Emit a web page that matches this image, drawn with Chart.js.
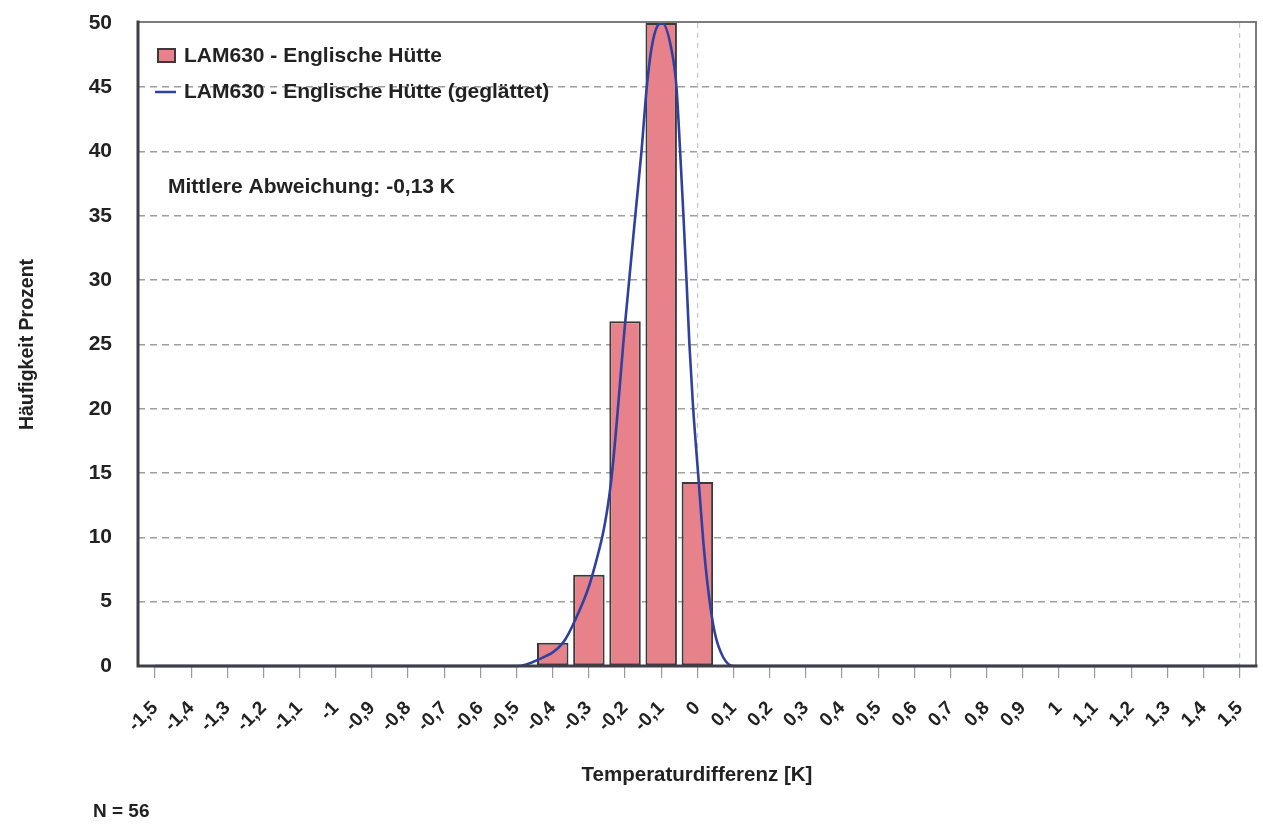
<!DOCTYPE html>
<html lang="de">
<head>
<meta charset="utf-8">
<title>Temperaturdifferenz LAM630 - Englische Hütte</title>
<script src="https://cdn.jsdelivr.net/npm/chart.js@4/dist/chart.umd.min.js"></script>
<style>
  html, body { margin: 0; padding: 0; background: #fff; }
  #wrap { width: 1263px; height: 826px; }
</style>
</head>
<body>
<div id="wrap"><canvas id="histChart" width="1263" height="826"></canvas></div>
<script>
// histogram classes (K) and their share of all cases in percent
const BIN_X = [-0.4, -0.3, -0.2, -0.1, 0];
const BIN_PCT = [1.8, 7.1, 26.8, 50.0, 14.3];

// smoothed frequency curve, sampled along the x axis
const SMOOTH_X = [-1.5, -0.5, -0.44, -0.372, -0.336, -0.29, -0.24, -0.2, -0.17, -0.154, -0.14, -0.127, -0.11, -0.097,
                  -0.072, -0.058, -0.048, -0.039, -0.03, -0.022, -0.012, 0.002, 0.016, 0.03, 0.048, 0.071, 0.1, 1.5];
const SMOOTH_Y = [0, 0, 0.5, 1.8, 3.7, 7.1, 14.0, 26.6, 35.5, 40.2, 45.0, 48.0, 49.8, 50.0,
                  48.0, 45.1, 40.2, 35.3, 30.0, 25.0, 20.2, 15.0, 9.8, 5.9, 2.6, 0.7, 0, 0];

const X_TICKS = [-1.5, -1.4, -1.3, -1.2, -1.1, -1, -0.9, -0.8, -0.7, -0.6, -0.5, -0.4, -0.3, -0.2, -0.1, 0,
                 0.1, 0.2, 0.3, 0.4, 0.5, 0.6, 0.7, 0.8, 0.9, 1, 1.1, 1.2, 1.3, 1.4, 1.5];
const Y_TICKS = [0, 5, 10, 15, 20, 25, 30, 35, 40, 45, 50];

const SERIES_LABELS = ['LAM630 - Englische Hütte', 'LAM630 - Englische Hütte (geglättet)'];
const MEAN_TEXT = 'Mittlere Abweichung: -0,13 K';
const N_TEXT = 'N = 56';

const BAR_FILL = '#e7828b';
const BAR_EDGE = '#3a3a3a';
const CURVE = '#2f40a0';
const INK = '#222222';
const FONT = '"Liberation Sans", Arial, Helvetica, sans-serif';

Chart.defaults.font.family = FONT;
Chart.defaults.font.weight = 'bold';
Chart.defaults.color = INK;

// German decimal comma: -1,5 / 0 / 1
const fmt = v => String(Math.round(v * 10) / 10).replace('.', ',');
const near = (a, b) => Math.abs(a - b) < 1e-6;

// frame over the plot, legend in the upper left corner, notes
const frameAndNotes = {
  id: 'frameAndNotes',
  afterDatasetsDraw(chart) {
    const { ctx, chartArea: a } = chart;
    ctx.save();
    ctx.lineCap = 'square';
    ctx.strokeStyle = '#7c7c7c';
    ctx.lineWidth = 2;
    ctx.beginPath();
    ctx.moveTo(a.left, a.top - 1);
    ctx.lineTo(a.right, a.top - 1);
    ctx.lineTo(a.right, a.bottom);
    ctx.stroke();
    ctx.strokeStyle = '#3e3e48';
    ctx.lineWidth = 3;
    ctx.beginPath();
    ctx.moveTo(a.left, a.top - 1);
    ctx.lineTo(a.left, a.bottom);
    ctx.lineTo(a.right, a.bottom);
    ctx.stroke();

    // legend
    const bars = chart.data.datasets[1];
    const line = chart.data.datasets[0];
    ctx.fillStyle = bars.backgroundColor;
    ctx.fillRect(158, 49, 17, 13);
    ctx.strokeStyle = bars.borderColor;
    ctx.lineWidth = 2;
    ctx.strokeRect(158, 49, 17, 13);
    ctx.strokeStyle = line.borderColor;
    ctx.lineWidth = 2.5;
    ctx.lineCap = 'butt';
    ctx.beginPath();
    ctx.moveTo(155, 92);
    ctx.lineTo(176, 92);
    ctx.stroke();

    ctx.fillStyle = INK;
    ctx.textAlign = 'left';
    ctx.textBaseline = 'middle';
    ctx.font = 'bold 21px ' + FONT;
    ctx.fillText(bars.label, 184, 56);
    ctx.fillText(line.label, 184, 92);
    ctx.fillText(MEAN_TEXT, 168, 187);
    ctx.font = 'bold 19px ' + FONT;
    ctx.fillText(N_TEXT, 93, 812);
    ctx.restore();
  }
};

new Chart(document.getElementById('histChart'), {
  type: 'bar',
  data: {
    datasets: [
      {
        type: 'line',
        label: SERIES_LABELS[1],
        data: SMOOTH_X.map((x, i) => ({ x, y: SMOOTH_Y[i] })),
        borderColor: CURVE,
        borderWidth: 2.6,
        pointRadius: 0,
        cubicInterpolationMode: 'monotone',
        fill: false,
        clip: 6,
        order: 0
      },
      {
        type: 'bar',
        label: SERIES_LABELS[0],
        data: BIN_X.map((x, i) => ({ x, y: BIN_PCT[i] })),
        backgroundColor: BAR_FILL,
        borderColor: BAR_EDGE,
        borderWidth: 2,
        borderSkipped: false,
        barPercentage: 0.87,
        categoryPercentage: 1,
        order: 1
      }
    ]
  },
  options: {
    responsive: false,
    animation: false,
    events: [],
    layout: { padding: { top: 23, right: 7, bottom: 0, left: 0 } },
    plugins: { legend: { display: false }, tooltip: { enabled: false } },
    scales: {
      x: {
        type: 'linear',
        offset: false,
        min: -1.547,
        max: 1.545,
        afterBuildTicks: s => { s.ticks = X_TICKS.map(v => ({ value: v })); },
        afterFit: s => { s.height = 160; s.paddingLeft = 0; s.paddingRight = 0; },
        ticks: {
          autoSkip: false,
          minRotation: 45,
          maxRotation: 45,
          padding: 19,
          color: INK,
          font: { size: 19 },
          callback: v => fmt(v)
        },
        grid: {
          offset: false,
          color: c => (c.tick && (near(c.tick.value, 0) || near(c.tick.value, 1.5))) ? '#c6c6c6' : 'rgba(0,0,0,0)',
          lineWidth: 1.2,
          tickLength: 12,
          tickColor: '#9a9a9a',
          tickWidth: 1.2
        },
        border: { display: false, dash: [5, 5] },
        title: {
          display: true,
          text: 'Temperaturdifferenz [K]',
          color: INK,
          font: { size: 20.5 },
          padding: { top: 0, bottom: 38 }
        }
      },
      y: {
        min: 0,
        max: 50,
        afterBuildTicks: s => { s.ticks = Y_TICKS.map(v => ({ value: v })); },
        afterFit: s => { s.width = 138; s.paddingTop = 0; s.paddingBottom = 0; },
        ticks: { padding: 26, color: INK, font: { size: 21 } },
        grid: {
          drawTicks: false,
          color: c => (c.tick && (c.tick.value === 0 || c.tick.value === 50)) ? 'rgba(0,0,0,0)' : '#9e9e9e',
          lineWidth: 1.6
        },
        border: { display: false, dash: [7, 5] },
        title: {
          display: true,
          text: 'Häufigkeit Prozent',
          color: INK,
          font: { size: 19.5 },
          padding: { top: 16, bottom: 0 }
        }
      }
    }
  },
  plugins: [frameAndNotes]
});
</script>
</body>
</html>
